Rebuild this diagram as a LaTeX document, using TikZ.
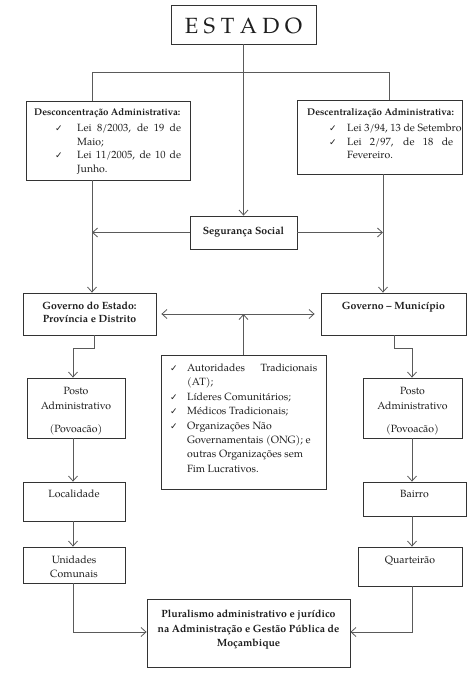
\documentclass[tikz,border=0pt]{standalone}
\usepackage{fontspec}
\setmainfont{TeX Gyre Pagella}
\newfontfamily\symf{DejaVu Sans}
\usetikzlibrary{arrows.meta}
\definecolor{ln}{HTML}{5A5A5A}
\definecolor{bd}{HTML}{333333}
\definecolor{tx}{HTML}{1E1E1E}
\newcommand\ck{{\symf\fontsize{9}{9}\selectfont ✓}}
\newcommand\mpt[2]{\begin{minipage}[t]{#1}#2\end{minipage}}
\newcommand\ttl[1]{\mbox{\fontsize{9.7}{13.5}\selectfont\bfseries #1}}
\tikzset{
  box/.style={draw=bd, line width=0.8pt, fill=white, inner sep=0pt},
  txt/.style={inner sep=0pt, anchor=base, text=tx, font=\fontsize{10.5}{14}\selectfont},
  con/.style={draw=ln, line width=0.8pt},
  arr/.style={con, -{Straight Barb[length=5pt,width=9pt]}},
  arrb/.style={con, {Straight Barb[length=5pt,width=9pt]}-{Straight Barb[length=5pt,width=9pt]}},
}
\begin{document}
\begin{tikzpicture}[x=1pt,y=-1pt]
\useasboundingbox[fill=white] (0,0) rectangle (474,673);

% boxes
\node[box, minimum width=145pt, minimum height=39pt] (estado) at (243.5,24.5) {};
\node[box, minimum width=164pt, minimum height=79pt] (desc) at (108,140.5) {};
\node[box, minimum width=165pt, minimum height=74pt] (dcen) at (379.5,137) {};
\node[box, minimum width=107pt, minimum height=33pt] (seg) at (243.5,232.5) {};
\node[box, minimum width=133pt, minimum height=42pt] (gove) at (89.5,314) {};
\node[box, minimum width=145pt, minimum height=42pt] (govm) at (393.5,314) {};
\node[box, minimum width=165pt, minimum height=134pt] (ctr) at (243.5,422) {};
\node[box, minimum width=98pt, minimum height=60pt] (postoL) at (76,408) {};
\node[box, minimum width=102pt, minimum height=39pt] (loc) at (74,501.5) {};
\node[box, minimum width=102pt, minimum height=36pt] (unid) at (74,565) {};
\node[box, minimum width=99pt, minimum height=60pt] (postoR) at (412.5,408) {};
\node[box, minimum width=103pt, minimum height=34pt] (bairro) at (414.5,499) {};
\node[box, minimum width=104pt, minimum height=39pt] (quart) at (410,566.5) {};
\node[box, minimum width=203pt, minimum height=68pt] (plur) at (248.5,633) {};

% texts
\node[txt] (estado-t) at (243.5,33) {\fontsize{22}{22}\selectfont E S T A D O};
\node[txt, anchor=base west, font=\fontsize{10.5}{13.5}\selectfont] (desc-t) at (34,115.5) {\mpt{160pt}{%
  \ttl{Desconcentração Administrativa:}\\[2.5pt]
  \hspace*{21pt}\makebox[22pt][l]{\ck}\makebox[104pt][s]{Lei 8/2003, de 19 de}\\
  \hspace*{43pt}Maio;\\
  \hspace*{21pt}\makebox[22pt][l]{\ck}\makebox[104pt][s]{Lei 11/2005, de 10 de}\\
  \hspace*{43pt}Junho.}};
\node[txt, anchor=base west, font=\fontsize{10.5}{13.5}\selectfont] (dcen-t) at (307,115.5) {\mpt{155pt}{%
  \ttl{Descentralização Administrativa:}\\[2.5pt]
  \hspace*{22pt}\makebox[18pt][l]{\ck}Lei 3/94, 13 de Setembro\\
  \hspace*{22pt}\makebox[18pt][l]{\ck}\makebox[106pt][s]{Lei 2/97, de 18 de}\\
  \hspace*{40pt}Fevereiro.}};
\node[txt] (seg-t) at (243.5,234.5) {\textbf{Segurança Social}};
\node[txt, font=\fontsize{10.5}{13}\selectfont] (gove-t) at (89.5,309.5) {\mpt{130pt}{\centering\textbf{Governo do Estado:}\\\textbf{Província e Distrito}}};
\node[txt] (govm-t) at (393.5,309.5) {\textbf{Governo – Município}};
\node[txt, anchor=base west, font=\fontsize{10.5}{14.4}\selectfont] (ctr-t) at (170,371.5) {\mpt{150pt}{%
  \makebox[17pt][l]{\ck}\makebox[130pt][s]{Autoridades Tradicionais}\\
  \hspace*{17pt}(AT);\\
  \makebox[17pt][l]{\ck}Líderes Comunitários;\\
  \makebox[17pt][l]{\ck}Médicos Tradicionais;\\
  \makebox[17pt][l]{\ck}Organizações Não\\
  \hspace*{17pt}Governamentais (ONG); e\\
  \hspace*{17pt}outras Organizações sem\\
  \hspace*{17pt}Fim Lucrativos.}};
\node[txt, font=\fontsize{10.5}{15}\selectfont] (postoL-t) at (76,394.5) {\mpt{96pt}{\centering Posto\\Administrativo\\[8pt](Povoacão)}};
\node[txt, font=\fontsize{10.5}{15}\selectfont] (postoR-t) at (412.5,394.5) {\mpt{96pt}{\centering Posto\\Administrativo\\[8pt](Povoacão)}};
\node[txt] (loc-t) at (74,497.5) {Localidade};
\node[txt] (bairro-t) at (414.5,497.5) {Bairro};
\node[txt, font=\fontsize{10.5}{14}\selectfont] (unid-t) at (74,563.5) {\mpt{100pt}{\centering Unidades\\Comunais}};
\node[txt] (quart-t) at (410,563.5) {Quarteirão};
\node[txt, font=\fontsize{10.5}{14.5}\selectfont] (plur-t) at (248.5,617.5) {\mpt{200pt}{\centering\bfseries Pluralismo administrativo e jurídico\\na Administração e Gestão Pública de\\Moçambique}};

% helper coordinates
\coordinate (jL) at (92,72);
\coordinate (jR) at (389,72);
\coordinate (vL) at (92,0);
\coordinate (vR) at (383,0);
\coordinate (eL1) at (94,348);
\coordinate (eL2) at (73,348);
\coordinate (eR1) at (394,348);
\coordinate (eR2) at (412,348);
\coordinate (bL) at (73,632);
\coordinate (bR) at (412,632);

% connectors
\draw[arr] (estado.south) -- (seg.north);
\draw[con] (desc.north -| jL) -- (jL) -- (jR) -- (dcen.north -| jR);
\draw[arr] (desc.south -| vL) -- (gove.north -| vL);
\draw[arr] (dcen.south -| vR) -- (govm.north -| vR);
\draw[arr] (seg.west) -- (seg.west -| vL);
\draw[arr] (seg.east) -- (seg.east -| vR);
\draw[arrb, shorten <=5pt, shorten >=6pt] (gove.east) -- (govm.west);
\draw[arr] (ctr.north) -- (ctr.north |- gove.east);
\draw[arr] (gove.south -| eL1) -- (eL1) -- (eL2) -- (postoL.north -| eL2);
\draw[arr] (postoL.south -| eL2) -- (loc.north -| eL2);
\draw[arr] (loc.south -| eL2) -- (unid.north -| eL2);
\draw[arr] (unid.south -| bL) -- (bL) -- (plur.west |- bL);
\draw[arr] (govm.south -| eR1) -- (eR1) -- (eR2) -- (postoR.north -| eR2);
\draw[arr] (postoR.south -| eR2) -- (bairro.north -| eR2);
\draw[arr] (bairro.south -| eR2) -- (quart.north -| eR2);
\draw[arr] (quart.south -| bR) -- (bR) -- (plur.east |- bR);
\end{tikzpicture}
\end{document}
